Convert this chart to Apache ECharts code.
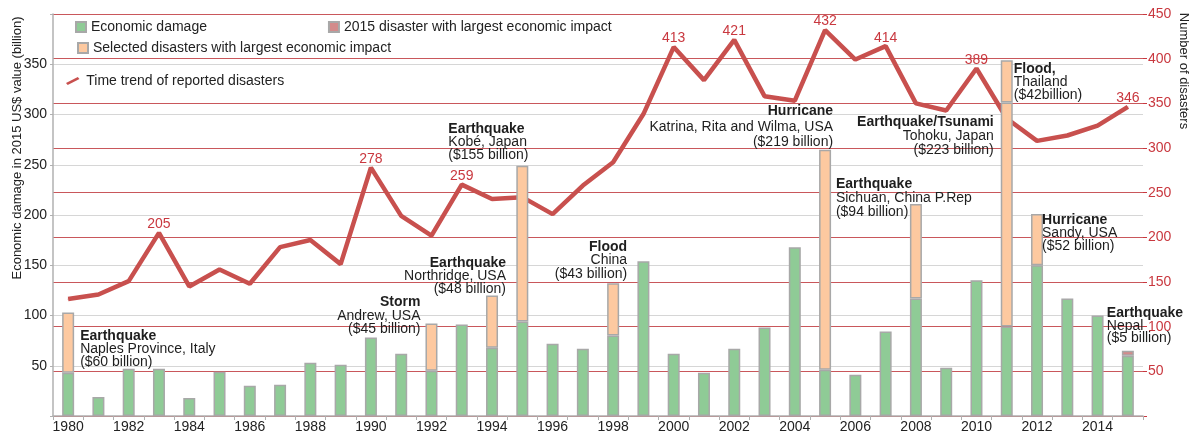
<!DOCTYPE html>
<html>
<head>
<meta charset="utf-8">
<script src="https://cdn.jsdelivr.net/npm/echarts@6/dist/echarts.min.js"></script>
<style>
    html, body { margin: 0; padding: 0; background: #fff; }
    #chart { width: 1200px; height: 442px; }
</style>
</head>
<body>
<div id="chart"></div>
<script>
var years = ['1980', '1981', '1982', '1983', '1984', '1985', '1986', '1987', '1988', '1989',
    '1990', '1991', '1992', '1993', '1994', '1995', '1996', '1997', '1998', '1999',
    '2000', '2001', '2002', '2003', '2004', '2005', '2006', '2007', '2008', '2009',
    '2010', '2011', '2012', '2013', '2014', '2015'];

// economic damage, billion US$ (2015 value)
var damage = [43, 19, 47, 47, 18, 44, 30, 31, 53, 51,
    78, 62, 45, 91, 68, 94, 72, 67, 80, 154,
    62, 43, 67, 88, 168, 46, 41, 84, 117, 48,
    135, 89, 150, 117, 100, 60];

// selected disasters with largest economic impact
var selected = [60, null, null, null, null, null, null, null, null, null,
    null, null, 47, null, 52, 155, null, null, 52, null,
    null, null, null, null, null, 219, null, null, 94, null,
    null, 223, 51, null, null, null];

// second selected disaster of 2011 (Thailand flood)
var selected2011 = [null, null, null, null, null, null, null, null, null, null,
    null, null, null, null, null, null, null, null, null, null,
    null, null, null, null, null, null, null, null, null, null,
    null, 42, null, null, null, null];

// 2015 disaster with largest economic impact
var largest2015 = [null, null, null, null, null, null, null, null, null, null,
    null, null, null, null, null, null, null, null, null, null,
    null, null, null, null, null, null, null, null, null, null,
    null, null, null, null, null, 5];

// number of reported disasters
var disasters = [131, 136, 151, 205, 145, 164, 148, 189, 197, 170,
    278, 224, 202, 259, 243, 245, 226, 258, 284, 338,
    413, 376, 421, 358, 353, 432, 399, 414, 350, 342,
    389, 333, 308, 314, 325, 346];

var labelledYears = ['1983', '1990', '1993', '2000', '2002', '2005', '2007', '2010', '2015'];

// annotations
var annoYears = ['1980', '1992', '1994', '1995', '1998', '2005', '2008', '2011', '2011', '2012', '2015'];
var annoTitles = ['Earthquake', 'Storm', 'Earthquake', 'Earthquake', 'Flood', 'Hurricane', 'Earthquake',
    'Earthquake/Tsunami', 'Flood,', 'Hurricane', 'Earthquake'];
var annoPlaces = ['Naples Province, Italy', 'Andrew, USA', 'Northridge, USA', 'Kobé, Japan', 'China',
    'Katrina, Rita and Wilma, USA', 'Sichuan, China P.Rep', 'Tohoku, Japan', 'Thailand', 'Sandy, USA', 'Nepal'];
var annoAmounts = ['($60 billion)', '($45 billion)', '($48 billion)', '($155 billion)', '($43 billion)',
    '($219 billion)', '($94 billion)', '($223 billion)', '($42billion)', '($52 billion)', '($5 billion)'];

// annotation layout: top of text (left axis value), x shift from bar centre, alignment, line step
var annoTop = [86, 120, 159, 292, 175, 310, 238, 299, 352, 202, 109];
var annoDx = [12, -11, 14, -74, 14, 8, -80, -13, 7, 5, -21];
var annoAlign = ['left', 'right', 'right', 'left', 'right', 'right', 'left', 'right', 'left', 'left', 'left'];
var annoStep = [13, 13.5, 13, 13, 13.5, 15.5, 14, 14, 13, 13, 12.5];

var FONT = 'Liberation Sans, Arial, sans-serif';
var RED = '#c9383f';
var LINE = '#c8504e';
var BORDER = '#a8a8a8';

var chart = echarts.init(document.getElementById('chart'));

var lineData = [];
for (var i = 0; i < disasters.length; i++) {
    if (labelledYears.indexOf(years[i]) >= 0) {
        lineData.push({value: disasters[i], label: {show: true}});
    } else {
        lineData.push(disasters[i]);
    }
}

function barStyle(color) {
    return {color: color, borderColor: BORDER, borderWidth: 1.5};
}

chart.setOption({
    animation: false,
    textStyle: {fontFamily: FONT},
    grid: {left: 53, right: 57, top: 14, bottom: 26, containLabel: false},
    legend: [{
        left: 75, top: 20, padding: 0, itemWidth: 10, itemHeight: 10, itemGap: 121, icon: 'rect',
        textStyle: {fontSize: 14, color: '#222', fontFamily: FONT},
        data: ['Economic damage', '2015 disaster with largest economic impact']
    }, {
        left: 77, top: 41, padding: 0, itemWidth: 10, itemHeight: 10, icon: 'rect',
        textStyle: {fontSize: 14, color: '#222', fontFamily: FONT},
        data: ['Selected disasters with largest economic impact']
    }, {
        left: 66, top: 74, padding: 0, itemWidth: 17, itemHeight: 8,
        textStyle: {fontSize: 14, color: '#222', fontFamily: FONT},
        data: [{
            name: 'Time trend of reported disasters',
            icon: 'path://M0,7 L14,0 L16,2.5 L2,9.5 Z',
            itemStyle: {color: LINE}
        }]
    }],
    xAxis: {
        type: 'category',
        data: years,
        boundaryGap: true,
        axisLine: {lineStyle: {color: '#b0b0b0', width: 1.5}},
        axisTick: {show: true, interval: 0, length: 4, lineStyle: {color: '#b0b0b0'}},
        axisLabel: {interval: 1, fontSize: 14, color: '#222', margin: 4, fontFamily: FONT}
    },
    yAxis: [{
        type: 'value',
        min: 0, max: 400, interval: 50,
        axisLine: {show: true, lineStyle: {color: '#b0b0b0', width: 1.5}},
        axisTick: {show: true, length: 3, lineStyle: {color: '#b0b0b0'}},
        axisLabel: {
            fontSize: 14, color: '#222', margin: 6, fontFamily: FONT,
            formatter: function (v) { return (v === 0 || v === 400) ? '' : v; }
        },
        splitLine: {lineStyle: {color: '#d6d6d6', width: 1.2}}
    }, {
        type: 'value',
        min: 0, max: 450, interval: 50,
        position: 'right',
        axisLine: {show: false},
        axisTick: {show: true, length: 4, lineStyle: {color: RED}},
        axisLabel: {
            fontSize: 14, color: RED, margin: 5, fontFamily: FONT,
            formatter: function (v) { return v === 0 ? '' : v; }
        },
        splitLine: {lineStyle: {color: '#c9575b', width: 1.2}}
    }],
    series: [{
        name: 'Time trend of reported disasters',
        type: 'line',
        yAxisIndex: 1,
        z: 1,
        data: lineData,
        symbol: 'circle',
        symbolSize: 1,
        showSymbol: true,
        showAllSymbol: true,
        lineStyle: {color: LINE, width: 4.5},
        itemStyle: {color: LINE},
        label: {show: false, position: 'top', distance: 1, fontSize: 14, color: RED, fontFamily: FONT}
    }, {
        name: 'Economic damage',
        type: 'bar',
        stack: 'loss',
        z: 3,
        barWidth: 12,
        data: damage,
        itemStyle: barStyle('#8fcb96')
    }, {
        name: 'Selected disasters with largest economic impact',
        type: 'bar',
        stack: 'loss',
        z: 3,
        barWidth: 12,
        data: selected,
        itemStyle: barStyle('#fdc9a0')
    }, {
        name: 'Selected disasters with largest economic impact',
        type: 'bar',
        stack: 'loss',
        z: 3,
        barWidth: 12,
        data: selected2011,
        itemStyle: barStyle('#fdc9a0')
    }, {
        name: '2015 disaster with largest economic impact',
        type: 'bar',
        stack: 'loss',
        z: 3,
        barWidth: 12,
        data: largest2015,
        itemStyle: barStyle('#d38b8b')
    }]
});

var graphics = [{
    type: 'text', x: 17, y: 148, rotation: Math.PI / 2,
    style: {text: 'Economic damage in 2015 US$ value (billion)', fontSize: 13, fontFamily: FONT,
        fill: '#222', align: 'center', verticalAlign: 'middle'}
}, {
    type: 'text', x: 1184, y: 71, rotation: -Math.PI / 2,
    style: {text: 'Number of disasters', fontSize: 13, fontFamily: FONT,
        fill: '#222', align: 'center', verticalAlign: 'middle'}
}];

for (var k = 0; k < annoYears.length; k++) {
    var p = chart.convertToPixel({xAxisIndex: 0, yAxisIndex: 0}, [annoYears[k], annoTop[k]]);
    var lines = [annoTitles[k], annoPlaces[k], annoAmounts[k]];
    for (var j = 0; j < lines.length; j++) {
        graphics.push({
            type: 'text',
            z: 10,
            x: p[0] + annoDx[k],
            y: p[1] + j * annoStep[k],
            style: {
                text: lines[j],
                fontSize: 14,
                fontWeight: j === 0 ? 'bold' : 'normal',
                fontFamily: FONT,
                fill: '#1e1e1e',
                align: annoAlign[k],
                verticalAlign: 'top'
            }
        });
    }
}

chart.setOption({graphic: graphics});
</script>
</body>
</html>
